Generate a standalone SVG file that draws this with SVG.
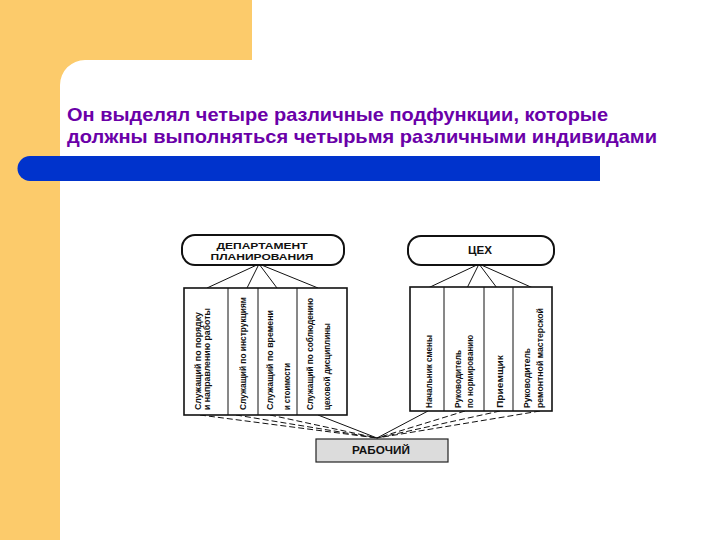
<svg xmlns="http://www.w3.org/2000/svg" width="720" height="540" viewBox="0 0 720 540">
<style>
.title{font-family:"Liberation Sans",Arial,sans-serif;font-weight:bold;font-size:18.5px;fill:#6a00a8}
.hd{font-family:"Liberation Sans",Arial,sans-serif;font-weight:bold;font-size:10.5px;fill:#111;text-anchor:middle}
.hs{font-family:"Liberation Sans",Arial,sans-serif;font-weight:bold;font-size:9px;fill:#111;text-anchor:middle}
.vt{font-family:"Liberation Sans Narrow","Liberation Sans",Arial,sans-serif;font-weight:bold;font-size:9px;fill:#111}
.box{fill:#fff;stroke:#111;stroke-width:1.6}
.oval{fill:#fff;stroke:#111;stroke-width:2}
.ln{stroke:#111;stroke-width:1;fill:none}
.dl{stroke:#111;stroke-width:1;fill:none;stroke-dasharray:6 3}
</style>
<rect width="720" height="540" fill="#fff"/>
<path d="M0,0 H252 V60 H85 A25,25 0 0 0 60,85 V540 H0 Z" fill="#fccb6b"/>
<path d="M30,156 H600 V181 H30 A12.5,12.5 0 0 1 30,156 Z" fill="#0033cc"/>
<text class="title" x="67" y="121" textLength="541" lengthAdjust="spacingAndGlyphs">Он выделял четыре различные подфункции, которые</text>
<text class="title" x="67" y="143" textLength="590" lengthAdjust="spacingAndGlyphs">должны выполняться четырьмя различными индивидами</text>

<g id="connectors">
<path class="ln" d="M259,264 L207,288 M259,264 L247,288 M259,264 L277,288 M259,264 L318,288"/>
<path class="ln" d="M479,264 L428,288 M479,264 L467,288 M479,264 L497,288 M479,264 L533,288"/>
<path class="dl" d="M200,415 L377,438 M236,415 L377,438 M270,415 L377,438"/>
<path class="ln" d="M318,415 L377,438 M428,411 L377,438"/>
<path class="dl" d="M465,411 L377,438 M500,411 L377,438 M540,411 L377,438"/>
</g>

<g id="dept">
<rect class="oval" x="182" y="235" width="162" height="30" rx="13"/>
<text class="hs" x="262" y="249" textLength="91" lengthAdjust="spacingAndGlyphs">ДЕПАРТАМЕНТ</text>
<text class="hs" x="262" y="260" textLength="103" lengthAdjust="spacingAndGlyphs">ПЛАНИРОВАНИЯ</text>
</g>
<g id="ceh">
<rect class="oval" x="408" y="236" width="146" height="29" rx="13"/>
<text class="hd" x="480" y="254" textLength="24" lengthAdjust="spacingAndGlyphs">ЦЕХ</text>
</g>

<g id="left-cells">
<rect class="box" x="184" y="288" width="163" height="127"/>
<path class="ln" d="M228,288 V415 M258,288 V415 M297,288 V415" stroke-width="1.6"/>
<text class="vt" transform="translate(201,410) rotate(-90)" textLength="98" lengthAdjust="spacingAndGlyphs">Служащий по порядку</text>
<text class="vt" transform="translate(210,410) rotate(-90)" textLength="102" lengthAdjust="spacingAndGlyphs">и направлению работы</text>
<text class="vt" transform="translate(246,410) rotate(-90)" textLength="113" lengthAdjust="spacingAndGlyphs">Служащий по инструкциям</text>
<text class="vt" transform="translate(273,410) rotate(-90)" textLength="100" lengthAdjust="spacingAndGlyphs">Служащий по времени</text>
<text class="vt" transform="translate(290,410) rotate(-90)" textLength="47" lengthAdjust="spacingAndGlyphs">и стоимости</text>
<text class="vt" transform="translate(313,410) rotate(-90)" textLength="112" lengthAdjust="spacingAndGlyphs">Служащий по соблюдению</text>
<text class="vt" transform="translate(330,410) rotate(-90)" textLength="87" lengthAdjust="spacingAndGlyphs">цеховой дисциплины</text>
</g>

<g id="right-cells">
<rect class="box" x="410" y="287" width="142" height="124"/>
<path class="ln" d="M444,287 V411 M484,287 V411 M513,287 V411" stroke-width="1.6"/>
<text class="vt" transform="translate(432,408) rotate(-90)" textLength="73" lengthAdjust="spacingAndGlyphs">Начальник смены</text>
<text class="vt" transform="translate(461,408) rotate(-90)" textLength="58" lengthAdjust="spacingAndGlyphs">Руководитель</text>
<text class="vt" transform="translate(473,408) rotate(-90)" textLength="73" lengthAdjust="spacingAndGlyphs">по нормированию</text>
<text class="vt" transform="translate(503,408) rotate(-90)" textLength="53" lengthAdjust="spacingAndGlyphs">Приемщик</text>
<text class="vt" transform="translate(530,408) rotate(-90)" textLength="60" lengthAdjust="spacingAndGlyphs">Руководитель</text>
<text class="vt" transform="translate(543,408) rotate(-90)" textLength="100" lengthAdjust="spacingAndGlyphs">ремонтной мастерской</text>
</g>

<g id="worker">
<rect x="316" y="439" width="132" height="23" fill="#dcdcdc" stroke="#222" stroke-width="1.2"/>
<text class="hd" x="381" y="454" textLength="58" lengthAdjust="spacingAndGlyphs">РАБОЧИЙ</text>
</g>
</svg>
